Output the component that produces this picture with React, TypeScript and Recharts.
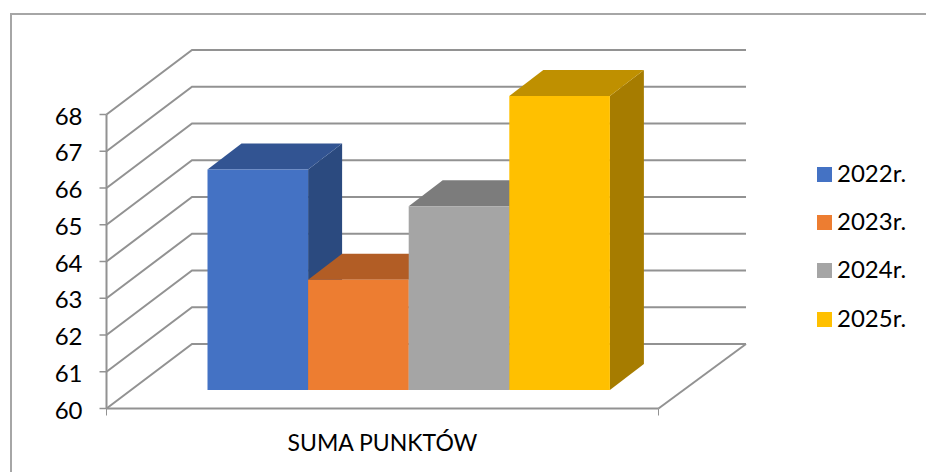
import React from "react";
import { BarChart, Bar, XAxis, YAxis, CartesianGrid, Legend } from "recharts";

const categories = ["SUMA PUNKTÓW"];
const values2022 = [66];
const values2023 = [63];
const values2024 = [65];
const values2025 = [68];
const yTicks = [60, 61, 62, 63, 64, 65, 66, 67, 68];
const seriesNames = ["2022r.", "2023r.", "2024r.", "2025r."];
const seriesKeys = ["y2022", "y2023", "y2024", "y2025"];
const frontColors = ["#4472C4", "#ED7D31", "#A5A5A5", "#FFC000"];
const topColors = ["#325492", "#B25D25", "#7C7C7C", "#BF9000"];
const sideColors = ["#2B4A7F", "#9A5120", "#6B6B6B", "#A67C00"];

const seriesValues = [values2022, values2023, values2024, values2025];
const data = categories.map((name, i) => {
  const row: Record<string, string | number> = { name };
  seriesKeys.forEach((k, s) => {
    row[k] = seriesValues[s][i];
  });
  return row;
});

const FONT = "Lato, sans-serif";
const AXIS = "#929292";
const BAR_DX = 25.5;
const BAR_DY = 18.5;
const BAR_DEPTH_X = 34;
const BAR_DEPTH_Y = 26;
const BAR_WIDTH_FIX = 0.6;
const WALL_DX_L = 85.5;
const WALL_DX_R = 87.5;
const WALL_DY = 64.5;

function makeBar(s: number) {
  return (props: any) => {
    const { x, y, width, height } = props;
    const w = width + BAR_WIDTH_FIX;
    const l = x + BAR_DX + s * BAR_WIDTH_FIX;
    const r = l + w;
    const t = y - BAR_DY;
    const b = t + height;
    const dx = BAR_DEPTH_X;
    const dy = BAR_DEPTH_Y;
    return (
      <g>
        <polygon points={`${r},${t} ${r + dx},${t - dy} ${r + dx},${b - dy} ${r},${b}`} fill={sideColors[s]} />
        <polygon points={`${l},${t} ${l + dx},${t - dy} ${r + dx},${t - dy} ${r},${t}`} fill={topColors[s]} />
        <rect x={l} y={t} width={w} height={height} fill={frontColors[s]} />
      </g>
    );
  };
}

function GridLine(props: any) {
  const { x1, x2, y1, height, y } = props;
  const bottom = y + height;
  const isFloor = Math.abs(y1 - bottom) < 0.5;
  const bx1 = x1 + WALL_DX_L;
  const bx2 = x2 + WALL_DX_R;
  const by = y1 - WALL_DY;
  return (
    <g fill="none" stroke={AXIS} strokeWidth={2}>
      <polyline points={`${x1},${y1} ${bx1},${by} ${bx2},${by}`} />
      {isFloor ? (
        <>
          <line x1={x2} y1={y1} x2={bx2} y2={by} />
          <line x1={x1} y1={y1} x2={x2} y2={y1} />
          <line x1={x1} y1={y1} x2={x1} y2={y1 + 7} strokeWidth={1} />
          <line x1={x2} y1={y1} x2={x2} y2={y1 + 7} strokeWidth={1} />
        </>
      ) : null}
    </g>
  );
}

function LegendContent(props: any) {
  const items = props.payload || [];
  return (
    <div>
      {items.map((it: any) => (
        <div
          key={it.value}
          style={{ display: "flex", alignItems: "center", height: 48.3, fontFamily: FONT, fontSize: 24, color: "#000" }}
        >
          <span style={{ width: 15, height: 15, background: it.color, marginRight: 5, display: "inline-block" }} />
          <span style={{ position: "relative", top: -2 }}>{it.value}</span>
        </div>
      ))}
    </div>
  );
}

export default function App() {
  return (
    <div style={{ position: "absolute", left: 0, top: 0, width: 926, height: 472, overflow: "hidden", background: "#fff" }}>
      <div
        style={{
          position: "absolute",
          left: 10,
          top: 13,
          width: 1000,
          height: 600,
          borderLeft: "2px solid #A6A6A6",
          borderTop: "2px solid #A6A6A6",
        }}
      />
      <div style={{ position: "absolute", left: 0, top: 0 }}>
        <BarChart
          width={926}
          height={472}
          data={data}
          barGap={0}
          barCategoryGap={75.5}
          margin={{ top: 114.5, right: 267.5, bottom: 23.5, left: 46.5 }}
        >
          <CartesianGrid vertical={false} horizontal={(p: any) => <GridLine {...p} />} />
          <XAxis
            dataKey="name"
            axisLine={false}
            tickLine={false}
            height={40}
            tickMargin={20}
            tick={{ fontFamily: FONT, fontSize: 23, fill: "#000" }}
          />
          <YAxis
            width={60}
            domain={[60, 68]}
            ticks={yTicks}
            interval={0}
            tickSize={7}
            tickMargin={17}
            axisLine={{ stroke: AXIS, strokeWidth: 2 }}
            tickLine={{ stroke: AXIS, strokeWidth: 1.5 }}
            tick={{ fontFamily: FONT, fontSize: 24, fill: "#000", dy: 1.5 }}
          />
          <Legend
            layout="vertical"
            align="center"
            verticalAlign="middle"
            content={<LegendContent />}
            wrapperStyle={{ position: "absolute", left: 817, top: 150, width: 105 }}
          />
          {seriesKeys.map((k, s) => (
            <Bar
              key={k}
              dataKey={k}
              name={seriesNames[s]}
              fill={frontColors[s]}
              isAnimationActive={false}
              shape={makeBar(s)}
            />
          ))}
        </BarChart>
      </div>
    </div>
  );
}
